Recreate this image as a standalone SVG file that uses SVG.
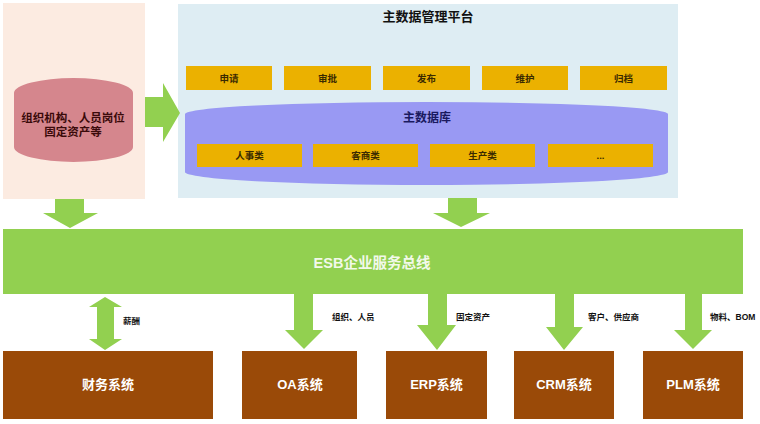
<svg xmlns="http://www.w3.org/2000/svg" width="760" height="424" viewBox="0 0 760 424">
<style>
text{font-family:"Liberation Sans","Noto Sans CJK SC",sans-serif;font-weight:bold;text-anchor:middle}
.arrow{fill:#92d050}
.ob{fill:#ebb100}
.ot{font-size:9.5px;fill:#3a2a00}
.sys{fill:#9a4a08}
.st{font-size:13px;fill:#ffffff}
.lab{font-size:8.5px;fill:#111111;text-anchor:start}
</style>
<rect width="760" height="424" fill="#ffffff"/>
<g id="source-panel">
<rect x="3" y="3" width="142" height="196" fill="#fcebe1"/>
<path d="M14,93 A59.5 15 0 0 1 133,93 L133,147 A59.5 15 0 0 1 14,147 Z" fill="#d5868d"/>
<text x="73" y="122" style="font-size:11.5px;fill:#3a0a0a">组织机构、人员岗位</text>
<text x="73" y="136" style="font-size:11.5px;fill:#3a0a0a">固定资产等</text>
</g>
<g id="mdm-platform">
<rect x="178" y="4" width="500" height="194" fill="#deedf3"/>
<text x="428" y="21" style="font-size:13px;fill:#111111">主数据管理平台</text>
<g id="step-apply"><rect class="ob" x="186" y="66" width="86" height="24"/><text class="ot" x="229" y="81.5">申请</text></g>
<g id="step-approve"><rect class="ob" x="284" y="66" width="87" height="24"/><text class="ot" x="327.5" y="81.5">审批</text></g>
<g id="step-publish"><rect class="ob" x="383" y="66" width="87" height="24"/><text class="ot" x="426.5" y="81.5">发布</text></g>
<g id="step-maintain"><rect class="ob" x="482" y="66" width="86" height="24"/><text class="ot" x="525" y="81.5">维护</text></g>
<g id="step-archive"><rect class="ob" x="580" y="66" width="87" height="24"/><text class="ot" x="623.5" y="81.5">归档</text></g>
<g id="master-db">
<path d="M185,114 A241.5 12 0 0 1 668,114 L668,172 A241.5 13 0 0 1 185,172 Z" fill="#9999f3"/>
<text x="427" y="122" style="font-size:12px;fill:#1a1a60">主数据库</text>
<g id="cat-hr"><rect class="ob" x="197" y="144" width="105" height="23"/><text class="ot" x="249.5" y="159">人事类</text></g>
<g id="cat-cust"><rect class="ob" x="313" y="144" width="105" height="23"/><text class="ot" x="365.5" y="159">客商类</text></g>
<g id="cat-prod"><rect class="ob" x="430" y="144" width="105" height="23"/><text class="ot" x="482.5" y="159">生产类</text></g>
<g id="cat-more"><rect class="ob" x="548" y="144" width="105" height="23"/><text class="ot" x="600.5" y="159">...</text></g>
</g>
</g>
<g id="esb">
<rect x="3" y="229" width="740" height="65" fill="#92d050"/>
<text x="372" y="268" style="font-size:14.5px;fill:#f2f9ea">ESB企业服务总线</text>
</g>
<g id="sys-finance"><rect class="sys" x="3" y="351" width="210" height="68"/><text class="st" x="108" y="389">财务系统</text></g>
<g id="sys-oa"><rect class="sys" x="242" y="351" width="115" height="68"/><text class="st" x="300" y="389">OA系统</text></g>
<g id="sys-erp"><rect class="sys" x="386" y="351" width="101" height="68"/><text class="st" x="436.5" y="389">ERP系统</text></g>
<g id="sys-crm"><rect class="sys" x="514" y="351" width="100" height="68"/><text class="st" x="564" y="389">CRM系统</text></g>
<g id="sys-plm"><rect class="sys" x="643" y="351" width="100" height="68"/><text class="st" x="693" y="389">PLM系统</text></g>
<g id="connectors">
<path class="arrow" d="M145,97 L163,97 L163,83 L180,113 L163,142 L163,127 L145,127 Z"/>
<path class="arrow" d="M55,199 L84,199 L84,213 L98,213 L70,228 L43,213 L55,213 Z"/>
<path class="arrow" d="M448,198 L477,198 L477,213 L490,213 L461,227 L433,213 L448,213 Z"/>
<path class="arrow" d="M105,297 L122,307 L114,307 L114,339 L122,339 L105,350 L89,339 L97,339 L97,307 L89,307 Z"/>
<path class="arrow" d="M294,294 L313,294 L313,330 L323,330 L304,349 L285,330 L294,330 Z"/>
<path class="arrow" d="M428,294 L447,294 L447,325 L456,325 L437,350 L417,325 L428,325 Z"/>
<path class="arrow" d="M555,294 L574,294 L574,327 L583,327 L564,350 L546,327 L555,327 Z"/>
<path class="arrow" d="M685,294 L702,294 L702,330 L712,330 L693,349 L674,330 L685,330 Z"/>
<text class="lab" x="123" y="324">薪酬</text>
<text class="lab" x="332" y="320">组织、人员</text>
<text class="lab" x="456" y="320">固定资产</text>
<text class="lab" x="588" y="320">客户、供应商</text>
<text class="lab" x="710" y="320">物料、BOM</text>
</g>
</svg>
